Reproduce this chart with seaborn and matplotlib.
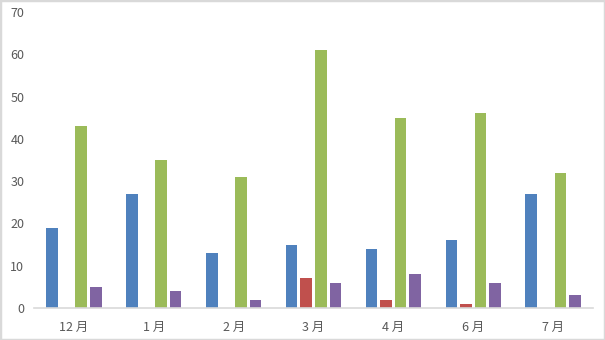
import matplotlib
matplotlib.use("Agg")
import matplotlib.pyplot as plt
import seaborn as sns
import pandas as pd
import numpy as np
from matplotlib.patches import Rectangle

categories = ["12 月", "1 月", "2 月", "3 月", "4 月", "6 月", "7 月"]
series_names = ["系列1", "系列2", "系列3", "系列4"]
s1 = [19, 27, 13, 15, 14, 16, 27]
s2 = [0, 0, 0, 7, 2, 1, 0]
s3 = [43, 35, 31, 61, 45, 46, 32]
s4 = [5, 4, 2, 6, 8, 6, 3]
colors = ["#4F81BD", "#C0504D", "#9BBB59", "#8064A2"]

rows = []
for name, vals in zip(series_names, [s1, s2, s3, s4]):
    for c, v in zip(categories, vals):
        rows.append({"cat": c, "series": name, "value": v})
df = pd.DataFrame(rows)

sns.set_style("white")
plt.rcParams['font.family'] = ['Noto Sans CJK SC', 'DejaVu Sans']

fig = plt.figure(figsize=(6.05, 3.40), dpi=100)
ax = fig.add_axes([34/605, 32/340, (593-34)/605, (308-12)/340])
sns.barplot(data=df, x="cat", y="value", hue="series", order=categories,
            hue_order=series_names, palette=colors, width=0.73, gap=0.2,
            legend=False, ax=ax, saturation=1, linewidth=0)

ax.set_ylim(0, 70)
ax.set_yticks(range(0, 71, 10))
ax.set_xlim(-0.5, len(categories) - 0.5)
ax.set_xlabel("")
ax.set_ylabel("")
for s in ["top", "right", "left"]:
    ax.spines[s].set_visible(False)
ax.spines["bottom"].set_color("#d9d9d9")
ax.spines["bottom"].set_linewidth(1.2)
ax.tick_params(axis="y", length=0, pad=7, labelsize=9, labelcolor="#595959")
ax.tick_params(axis="x", which="major", length=0, pad=9, labelsize=9, labelcolor="#595959")
ax.set_xticks(np.arange(-0.5, len(categories), 1), minor=True)
ax.tick_params(axis="x", which="minor", length=5, color="#d9d9d9", width=1.2)

fig.patches.append(Rectangle((0, 0), 1, 1, transform=fig.transFigure,
                             fill=False, edgecolor="#d9d9d9", linewidth=2.5))
fig.savefig("out.png", dpi=100)
